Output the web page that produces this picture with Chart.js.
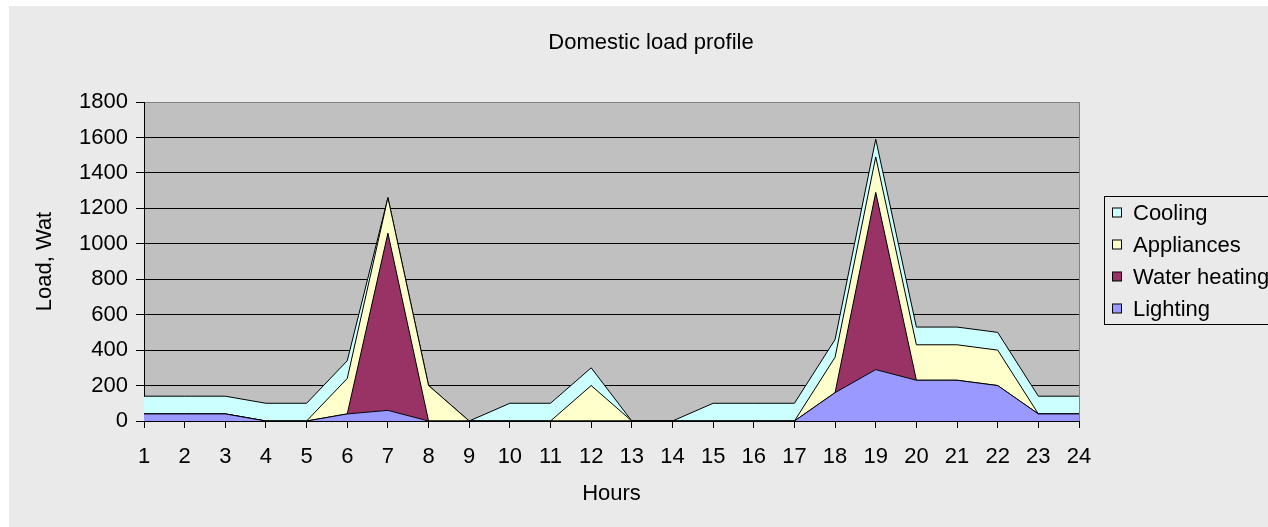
<!DOCTYPE html>
<html>
<head>
<meta charset="utf-8">
<title>Domestic load profile</title>
<script src="https://cdn.jsdelivr.net/npm/chart.js@4.4.1/dist/chart.umd.min.js"></script>
<style>
    html, body { margin: 0; padding: 0; background: #fff; overflow: hidden; }
    #chart { position: absolute; left: 9px; top: 6px; background: #eaeaea; }
</style>
</head>
<body>
<canvas id="chart" width="1259" height="521"></canvas>
<script>
// Horas del día
const hours = ['1','2','3','4','5','6','7','8','9','10','11','12','13','14','15','16','17','18','19','20','21','22','23','24'];

// Carga por uso (W), apiladas de abajo arriba
const lighting     = [40, 40, 40, 0, 0, 40, 60, 0, 0, 0, 0, 0, 0, 0, 0, 0, 0, 160, 290, 230, 230, 200, 40, 40];
const waterHeating = [0, 0, 0, 0, 0, 0, 1000, 0, 0, 0, 0, 0, 0, 0, 0, 0, 0, 0, 1000, 0, 0, 0, 0, 0];
const appliances   = [0, 0, 0, 0, 0, 200, 200, 200, 0, 0, 0, 200, 0, 0, 0, 0, 0, 200, 200, 200, 200, 200, 0, 0];
const cooling      = [100, 100, 100, 100, 100, 100, 0, 0, 0, 100, 100, 100, 0, 0, 100, 100, 100, 100, 100, 100, 100, 100, 100, 100];

const FONT = { family: '"Liberation Sans", Arial, sans-serif', size: 22 };

// Fondo gris del área de trazado y borde gris
const plotArea = {
    id: 'plotArea',
    beforeDraw(chart) {
        const { ctx, chartArea: a } = chart;
        ctx.save();
        ctx.fillStyle = '#c0c0c0';
        ctx.fillRect(a.left, a.top, a.right - a.left, a.bottom - a.top);
        ctx.restore();
    },
    afterDatasetsDraw(chart) {
        const { ctx, chartArea: a } = chart;
        ctx.save();
        ctx.strokeStyle = '#808080';
        ctx.lineWidth = 1;
        ctx.beginPath();
        ctx.moveTo(Math.round(a.right) + 0.5, a.top);
        ctx.lineTo(Math.round(a.right) + 0.5, a.bottom);
        ctx.stroke();
        ctx.restore();
    }
};

// Título centrado sobre todo el gráfico
const titlePlugin = {
    id: 'titlePlugin',
    afterDraw(chart) {
        const { ctx } = chart;
        ctx.save();
        ctx.font = `${FONT.size}px ${FONT.family}`;
        ctx.fillStyle = '#000';
        ctx.textAlign = 'center';
        ctx.textBaseline = 'middle';
        ctx.fillText('Domestic load profile', 642, 37);
        ctx.restore();
    }
};

// Leyenda con marco, recortada por el borde derecho
const boxLegend = {
    id: 'boxLegend',
    afterDraw(chart) {
        const { ctx } = chart;
        const items = chart.data.datasets.slice().reverse();
        ctx.save();
        ctx.strokeStyle = '#000';
        ctx.lineWidth = 1;
        ctx.strokeRect(1095.5, 190.5, 200, 128);
        ctx.font = `${FONT.size}px ${FONT.family}`;
        ctx.textBaseline = 'middle';
        items.forEach((ds, i) => {
            const y = 206.5 + i * 32;
            ctx.fillStyle = ds.backgroundColor;
            ctx.fillRect(1103.5, y - 4.5, 9, 9);
            ctx.strokeRect(1103.5, y - 4.5, 9, 9);
            ctx.fillStyle = '#000';
            ctx.fillText(ds.label, 1124, y + 1);
        });
        ctx.restore();
    }
};

const mkSet = (label, data, color, fill) => ({
    label, data, fill,
    backgroundColor: color,
    borderColor: '#000',
    borderWidth: 1,
    pointRadius: 0,
    tension: 0
});

new Chart(document.getElementById('chart'), {
    type: 'line',
    data: {
        labels: hours,
        datasets: [
            mkSet('Lighting', lighting, '#9999ff', 'origin'),
            mkSet('Water heating', waterHeating, '#993366', '-1'),
            mkSet('Appliances', appliances, '#ffffcc', '-1'),
            mkSet('Cooling', cooling, '#ccffff', '-1')
        ]
    },
    options: {
        responsive: false,
        animation: false,
        layout: { padding: { top: 96, right: 189, bottom: 0, left: 0 } },
        plugins: {
            legend: { display: false },
            title: { display: false },
            tooltip: { enabled: false }
        },
        scales: {
            x: {
                offset: false,
                afterFit: (s) => { s.height = 106; },
                grid: { drawOnChartArea: false, drawTicks: true, tickLength: 7, color: '#000' },
                border: { color: '#000' },
                ticks: { color: '#000', font: FONT, padding: 16, maxRotation: 0, autoSkip: false },
                title: { display: true, text: 'Hours', color: '#000', font: FONT, padding: { top: 0, bottom: 20 } }
            },
            y: {
                stacked: true,
                min: 0,
                max: 1800,
                afterFit: (s) => { s.width = 135; },
                grid: {
                    color: (c) => (c.tick && c.tick.value === 1800 ? '#808080' : '#000'),
                    tickColor: '#000',
                    tickLength: 8
                },
                border: { color: '#000' },
                ticks: { stepSize: 200, color: '#000', font: FONT, padding: 8, callback: (v) => String(v) },
                title: { display: true, text: 'Load, Wat', color: '#000', font: FONT, padding: { top: 23, bottom: 0 } }
            }
        }
    },
    plugins: [plotArea, titlePlugin, boxLegend]
});
</script>
</body>
</html>
